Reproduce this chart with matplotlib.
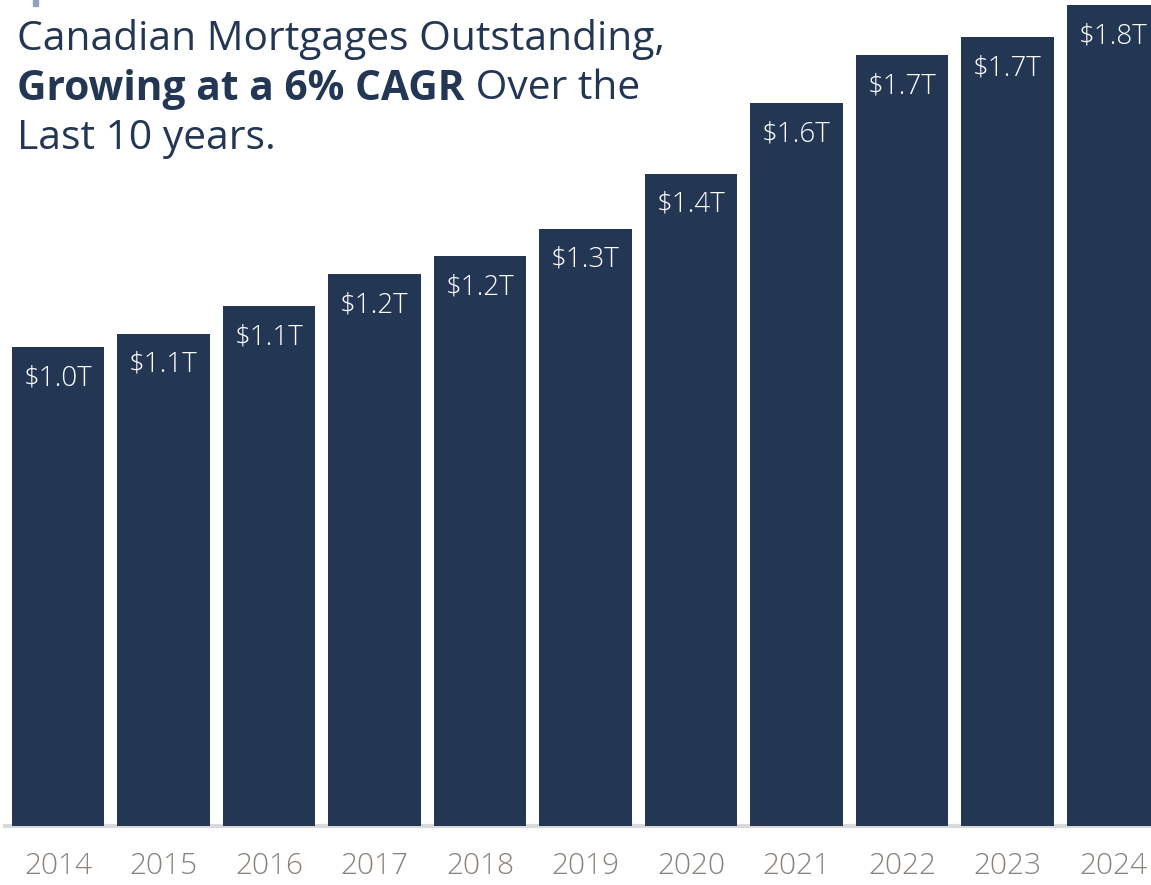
import matplotlib
matplotlib.use("Agg")
import matplotlib.pyplot as plt

years = ["2014", "2015", "2016", "2017", "2018", "2019", "2020", "2021", "2022", "2023", "2024"]
values = [1.05, 1.08, 1.14, 1.21, 1.25, 1.31, 1.43, 1.585, 1.69, 1.73, 1.80]
labels = ["$1.0T", "$1.1T", "$1.1T", "$1.2T", "$1.2T", "$1.3T", "$1.4T", "$1.6T", "$1.7T", "$1.7T", "$1.8T"]

NAVY = "#233654"
GREY_TXT = "#8a827c"
FONT = "Open Sans"

W, H = 1151, 885
fig = plt.figure(figsize=(W / 100, H / 100), dpi=100)
base_y = 826
ax = fig.add_axes([0, (H - base_y) / H, 1, base_y / H])
step = 105.5
c0 = 58
ax.set_xlim(-c0 / step, (W - c0) / step)
ax.set_ylim(0, 826 / 456)

x = list(range(len(years)))
ax.bar(x, values, width=0.88, color=NAVY, zorder=2)
for xi, v, lab in zip(x, values, labels):
    ax.annotate(lab, (xi, v), xytext=(0, -31), textcoords="offset pixels",
                ha="center", va="center", color="white", fontsize=20,
                family=FONT, fontweight="light")

for s in ax.spines.values():
    s.set_visible(False)
ax.set_yticks([])
ax.set_xticks(x)
ax.set_xticklabels(years, fontsize=21.5, color=GREY_TXT, family=FONT, fontweight="light")
ax.tick_params(axis="x", length=0, pad=18)
ax.axhline(0, xmin=5 / W, xmax=1, color="#d9d9d9", lw=3, zorder=1, clip_on=False)

# small mark at top-left
fig.patches.append(plt.Rectangle((33 / W, 1 - 6 / H), 5 / W, 6 / H,
                                 transform=fig.transFigure, color="#8fa3bb"))

# title
tx = 17 / W
fs = 28
t1 = fig.text(tx, 1 - 39 / H, "Canadian Mortgages Outstanding,", fontsize=fs, color=NAVY,
              family=FONT, va="center", ha="left")
fig.canvas.draw()
r = fig.canvas.get_renderer()
w1 = t1.get_window_extent(renderer=r).width
fs = fs * 646 / w1
t1.set_fontsize(fs)
t_bold = fig.text(tx, 1 - 89 / H, "Growing at a 6% CAGR", fontsize=fs, color=NAVY,
                  family=FONT, fontweight="bold", va="center", ha="left")
fig.canvas.draw()
bb = t_bold.get_window_extent(renderer=r)
fig.text(bb.x1 / W, 1 - 89 / H, " Over the", fontsize=fs, color=NAVY,
         family=FONT, va="center", ha="left")
fig.text(tx, 1 - 139 / H, "Last 10 years.", fontsize=fs, color=NAVY,
         family=FONT, va="center", ha="left")

fig.savefig("out.png", dpi=100)
